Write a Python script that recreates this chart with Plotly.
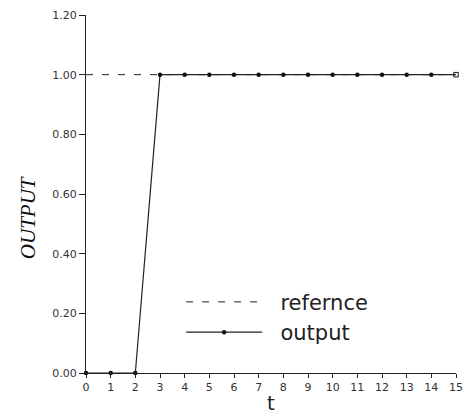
import plotly.graph_objects as go

t = list(range(0, 16))
output = [0, 0, 0, 1, 1, 1, 1, 1, 1, 1, 1, 1, 1, 1, 1, 1]
reference = [1] * 16
x_ticks = list(range(0, 16))
y_ticks = [0.0, 0.2, 0.4, 0.6, 0.8, 1.0, 1.2]
pad = "\u00a0\u00a0"

fig = go.Figure()
fig.add_trace(go.Scatter(
    x=t, y=reference, mode="lines", name=pad + "refernce",
    line=dict(color="#222", width=1, dash="7px,9px"),
))
fig.add_trace(go.Scatter(
    x=t, y=output, mode="lines+markers", name=pad + "output",
    line=dict(color="#222", width=1.2),
    marker=dict(color="#111", size=4.5,
                symbol=["circle"] * 15 + ["square-open"]),
))

fig.update_layout(
    width=471, height=418,
    margin=dict(l=86, r=8, t=15, b=40),
    paper_bgcolor="white", plot_bgcolor="white",
    font=dict(family="DejaVu Sans", color="#222"),
    showlegend=True,
    legend=dict(
        x=0.257, y=0.255, xanchor="left", yanchor="top",
        font=dict(size=21, family="DejaVu Sans", color="#222"),
        itemwidth=76, bgcolor="rgba(0,0,0,0)", tracegroupgap=0,
    ),
    xaxis=dict(
        range=[0, 15], tickvals=x_ticks, ticktext=[str(v) for v in x_ticks],
        showgrid=False, zeroline=False, showline=True, linecolor="#222",
        linewidth=1, ticks="outside", ticklen=4, tickcolor="#222",
        tickfont=dict(size=11, family="DejaVu Sans", color="#333"),
        title=dict(text="t", font=dict(size=20, family="DejaVu Sans", color="#222"), standoff=2),
    ),
    yaxis=dict(
        range=[0, 1.2], tickvals=y_ticks, tickformat=".2f",
        showgrid=False, zeroline=False, showline=True, linecolor="#222",
        linewidth=1, ticks="outside", ticklen=6, tickcolor="#222",
        tickfont=dict(size=11, family="DejaVu Sans", color="#333"),
    ),
    annotations=[dict(
        text="<i>OUTPUT</i>", textangle=-90, showarrow=False,
        xref="paper", yref="paper", x=-0.157, y=0.435,
        xanchor="center", yanchor="middle",
        font=dict(size=21, family="Liberation Serif", color="#111"),
    )],
)
fig.update_traces(cliponaxis=False)

fig.write_html("out.html")
